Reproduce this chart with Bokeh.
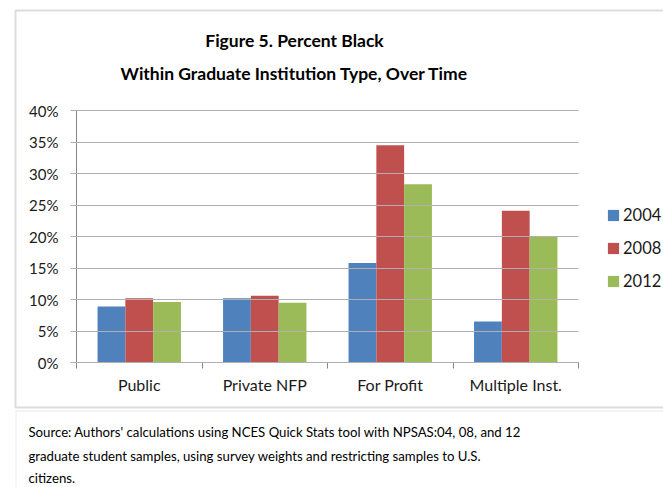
from bokeh.plotting import figure
from bokeh.models import (ColumnDataSource, Range1d, FixedTicker, NumeralTickFormatter,
                          LinearAxis, Legend, LegendItem, Label, BoxAnnotation)
from bokeh.embed import file_html
from bokeh.resources import INLINE

# ---- data ----
categories = ["Public", "Private NFP", "For Profit", "Multiple Inst."]
years = ["2004", "2008", "2012"]
pct_2004 = [0.089, 0.102, 0.158, 0.065]
pct_2008 = [0.102, 0.106, 0.345, 0.241]
pct_2012 = [0.096, 0.095, 0.283, 0.200]
y_ticks = [0.0, 0.05, 0.10, 0.15, 0.20, 0.25, 0.30, 0.35, 0.40]
y_max = 0.40
title_lines = ["Figure 5. Percent Black", "Within Graduate Institution Type, Over Time"]
source_lines = [
    "Source: Authors' calculations using NCES Quick Stats tool with NPSAS:04, 08, and 12",
    "graduate student samples, using survey weights and restricting samples to U.S.",
    "citizens.",
]
colors = ["#4F81BD", "#C0504D", "#9BBB59"]

FONT = "Lato"
W, H = 663, 487
# plotting area on the page (px)
PL, PR, PT, PB = 76, 578, 110, 362
ncat = len(categories)
px_x = (PR - PL) / ncat
px_y = (PB - PT) / y_max

# frame = whole canvas; axes are pinned inside it with fixed_location
p = figure(width=W, height=H, output_backend="svg", toolbar_location=None, title=None,
           x_range=Range1d(-PL / px_x, ncat + (W - PR) / px_x),
           y_range=Range1d(-(H - PB) / px_y, y_max + PT / px_y),
           min_border=0, x_axis_location=None, y_axis_location=None)
p.outline_line_color = None
p.xgrid.visible = False
p.ygrid.visible = False

# y axis; its long inward ticks act as the horizontal gridlines
yax = LinearAxis(ticker=FixedTicker(ticks=y_ticks, minor_ticks=[]),
                 formatter=NumeralTickFormatter(format="0%"),
                 bounds=(0, y_max), fixed_location=0)
yax.axis_line_color = "#868686"
yax.major_tick_line_color = "#b0b0b0"
yax.major_tick_out = 6
yax.major_tick_in = PR - PL
yax.minor_tick_line_color = None
yax.major_label_standoff = 12
yax.major_label_text_font = FONT
yax.major_label_text_font_size = "15px"
yax.major_label_text_color = "#1a1a1a"
p.add_layout(yax, "left")

# x axis: labels at category centres, ticks at category boundaries
centers = [i + 0.5 for i in range(ncat)]
bounds = [float(i) for i in range(ncat + 1)]
xax = LinearAxis(ticker=FixedTicker(ticks=centers, minor_ticks=bounds),
                 bounds=(0, ncat), fixed_location=0)
xax.major_label_overrides = {c: name for c, name in zip(centers, categories)}
xax.axis_line_color = "#868686"
xax.major_tick_line_color = None
xax.major_tick_out = 0
xax.major_tick_in = 0
xax.minor_tick_line_color = "#868686"
xax.minor_tick_out = 6
xax.minor_tick_in = 0
xax.major_label_standoff = 6
xax.major_label_text_font = FONT
xax.major_label_text_font_size = "16px"
xax.major_label_text_color = "#1a1a1a"
p.add_layout(xax, "below")

# bars
bar_w = 0.2215
series = [pct_2004, pct_2008, pct_2012]
renderers = []
for j, (vals, col) in enumerate(zip(series, colors)):
    off = (j - 1) * bar_w
    src = ColumnDataSource(dict(x=[c + off for c in centers], top=vals))
    r = p.vbar(x="x", top="top", width=bar_w, bottom=0, source=src,
               fill_color=col, line_color=None)
    renderers.append(r)


def sx(x):
    return x


def sy(y):
    return H - y


legend = Legend(items=[LegendItem(label=y, renderers=[r]) for y, r in zip(years, renderers)],
                location=(sx(606), sy(291)), orientation="vertical",
                glyph_width=14, glyph_height=14, label_standoff=3, spacing=13,
                label_height=20, padding=0, margin=0,
                border_line_color=None, background_fill_alpha=0,
                label_text_font=FONT, label_text_font_size="16.5px",
                label_text_color="#1a1a1a", label_text_baseline="middle")
p.add_layout(legend, "center")

# borders
p.add_layout(BoxAnnotation(left=sx(15), right=sx(W + 20), top=sy(10), bottom=sy(407),
                           left_units="screen", right_units="screen",
                           top_units="screen", bottom_units="screen",
                           fill_alpha=0, line_color="#8c8c8c", line_width=2))
p.add_layout(BoxAnnotation(left=sx(15.5), right=sx(W + 20), top=sy(410.5), bottom=sy(H + 20),
                           left_units="screen", right_units="screen",
                           top_units="screen", bottom_units="screen",
                           fill_alpha=0, line_color="#d0d0d0", line_width=1.5))

# title
for txt, yc in zip(title_lines, [40, 73]):
    p.add_layout(Label(x=sx(294), y=sy(yc), x_units="screen", y_units="screen",
                       text=txt, text_align="center", text_baseline="middle",
                       text_font=FONT, text_font_style="bold",
                       text_font_size="17.5px", text_color="#000000"))

# source note
for txt, yb in zip(source_lines, [431, 455, 477]):
    p.add_layout(Label(x=sx(28), y=sy(yb), x_units="screen", y_units="screen",
                       text=txt, text_align="left", text_baseline="alphabetic",
                       text_font=FONT, text_font_size="13.2px", text_color="#000000"))

open("out.html", "w").write(file_html(p, INLINE))
